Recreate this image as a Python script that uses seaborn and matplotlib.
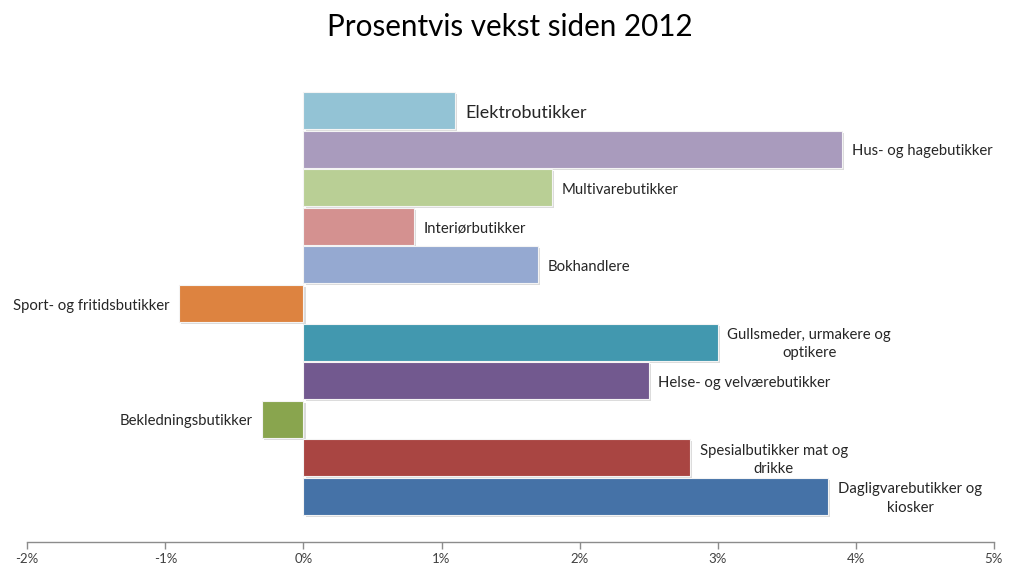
import matplotlib
matplotlib.use("Agg")
import matplotlib.pyplot as plt
import matplotlib.patheffects as pe
import seaborn as sns
import pandas as pd
from matplotlib.ticker import FuncFormatter

categories = [
    "Elektrobutikker",
    "Hus- og hagebutikker",
    "Multivarebutikker",
    "Interiørbutikker",
    "Bokhandlere",
    "Sport- og fritidsbutikker",
    "Gullsmeder, urmakere og\noptikere",
    "Helse- og velværebutikker",
    "Bekledningsbutikker",
    "Spesialbutikker mat og\ndrikke",
    "Dagligvarebutikker og\nkiosker",
]
values = [1.1, 3.9, 1.8, 0.8, 1.7, -0.9, 3.0, 2.5, -0.3, 2.8, 3.8]
colors = ["#93C3D5", "#A99BBD", "#B9CF95", "#D49190", "#95A9D1", "#DD8340",
          "#4298AF", "#72598F", "#89A54E", "#A94542", "#4572A7"]
xticks = [-2, -1, 0, 1, 2, 3, 4, 5]
title = "Prosentvis vekst siden 2012"

sns.set_theme(style="white")
plt.rcParams["font.family"] = ["Lato", "DejaVu Sans"]

df = pd.DataFrame({"kategori": categories, "vekst": values})

fig = plt.figure(figsize=(10.09, 5.72), dpi=100)
ax = fig.add_axes([0.027, 0.0524, 0.958, 0.7936])

sns.barplot(data=df, x="vekst", y="kategori", hue="kategori", palette=colors,
            orient="h", width=0.96, legend=False, ax=ax, saturation=1)

for p in ax.patches:
    p.set_edgecolor("#F4F4F4")
    p.set_linewidth(0.8)
    p.set_path_effects([pe.SimplePatchShadow(offset=(1.5, -1.5), shadow_rgbFace="#9a9a9a", alpha=0.35),
                        pe.Normal()])

ax.set_xlim(-2, 5)
ax.set_ylim(11.18, -0.58)
ax.set_xticks(xticks)
ax.xaxis.set_major_formatter(FuncFormatter(lambda v, _: f"{v:.0f}%"))
ax.set_yticks([])
ax.set_xlabel("")
ax.set_ylabel("")
for s in ["top", "right", "left"]:
    ax.spines[s].set_visible(False)
ax.spines["bottom"].set_color("#8C8C8C")
ax.spines["bottom"].set_linewidth(1.0)
ax.tick_params(axis="x", direction="out", length=5, width=1, color="#8C8C8C",
               labelsize=9.5, labelcolor="#404040", pad=3, bottom=True)

for i, (cat, v) in enumerate(zip(categories, values)):
    size = 12.9 if i == 0 else 10.7
    if v >= 0:
        ax.annotate(cat, (v, i), xytext=(7, -1.5), textcoords="offset points",
                    ha="left", va="center", multialignment="center",
                    fontsize=size, color="#262626", linespacing=1.4)
    else:
        ax.annotate(cat, (v, i), xytext=(-7, -1.5), textcoords="offset points",
                    ha="right", va="center", multialignment="center",
                    fontsize=size, color="#262626", linespacing=1.4)

fig.text(0.505, 0.952, title, ha="center", va="center", fontsize=21.3, color="#000000")

fig.savefig("out.png", dpi=100, facecolor="white")
